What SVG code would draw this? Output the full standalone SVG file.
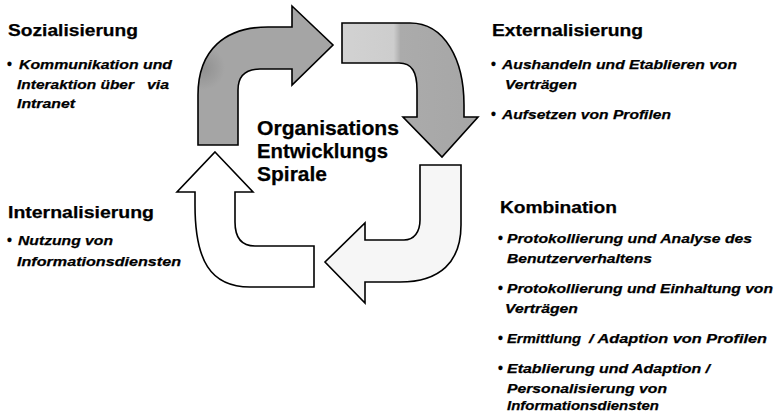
<svg xmlns="http://www.w3.org/2000/svg" width="777" height="412" viewBox="0 0 777 412">
<style>
.t{font-family:"Liberation Sans",Arial,Helvetica,sans-serif;font-weight:bold;fill:#000;stroke:#000;stroke-width:0.25}
.h{font-size:17px}
.b{font-size:13px;font-style:italic}
.d{font-size:14px}
.c{font-size:20.5px}
.ar{stroke:#000;stroke-width:1.6;stroke-linejoin:miter}
</style>
<defs>
<linearGradient id="g2" x1="342" y1="0" x2="478" y2="0" gradientUnits="userSpaceOnUse">
<stop offset="0" stop-color="#d2d2d2"/>
<stop offset="0.38" stop-color="#cdcdcd"/>
<stop offset="0.43" stop-color="#ababab"/>
<stop offset="1" stop-color="#a6a6a6"/>
</linearGradient>
<radialGradient id="g1" cx="203" cy="68" r="22" gradientUnits="userSpaceOnUse">
<stop offset="0" stop-color="#909090"/>
<stop offset="1" stop-color="#a5a5a5"/>
</radialGradient>
</defs>
<rect width="777" height="412" fill="#fff"/>
<g id="connectors">
<path id="arrow-top-left" class="ar" fill="url(#g1)" d="M198 145 L198 95 C198 50 225 27 268 27 L292 27 L292 6 L333 45 L292 85 L292 69 L260 69 C246 69 238 76 238 90 L238 145 Z"/>
<path id="arrow-top-right" class="ar" fill="url(#g2)" d="M342 23 L410 23 C445 23 464 60 464 105 L464 117 L478 117 L442 157 L403 117 L417 117 L417 90 C417 72 412 63 399 63 L342 63 Z"/>
<path id="arrow-bottom-right" class="ar" fill="#f6f6f6" d="M420 165 L461 165 L461 225 C461 262 440 282 400 282 L365 282 L365 303 L325 262 L365 223 L365 240 L404 240 C414 240 420 232 420 220 Z"/>
<path id="arrow-bottom-left" class="ar" fill="#fff" d="M215 152 L253 192 L235 192 L235 222 C235 238 242 246 255 246 L314 246 L314 287 L250 287 C210 287 195 260 195 205 L195 192 L177 192 Z"/>
</g>
<g id="center">
<text class="t c" x="257" y="135" textLength="142" lengthAdjust="spacingAndGlyphs">Organisations</text>
<text class="t c" x="257" y="158" textLength="131" lengthAdjust="spacingAndGlyphs">Entwicklungs</text>
<text class="t c" x="257" y="181" textLength="70" lengthAdjust="spacingAndGlyphs">Spirale</text>
</g>
<g id="sozialisierung">
<text class="t h" x="8" y="36" textLength="130" lengthAdjust="spacingAndGlyphs">Sozialisierung</text>
<text class="t d" x="7" y="69">•</text>
<text class="t b" x="19" y="69" textLength="153" lengthAdjust="spacingAndGlyphs">Kommunikation und</text>
<text class="t b" x="17" y="89" textLength="117" lengthAdjust="spacingAndGlyphs">Interaktion über</text>
<text class="t b" x="147" y="89" textLength="22" lengthAdjust="spacingAndGlyphs">via</text>
<text class="t b" x="17" y="108" textLength="58" lengthAdjust="spacingAndGlyphs">Intranet</text>
</g>
<g id="externalisierung">
<text class="t h" x="492" y="36" textLength="151" lengthAdjust="spacingAndGlyphs">Externalisierung</text>
<text class="t d" x="491" y="69">•</text>
<text class="t b" x="502" y="69" textLength="235" lengthAdjust="spacingAndGlyphs">Aushandeln und Etablieren von</text>
<text class="t b" x="505" y="89" textLength="72" lengthAdjust="spacingAndGlyphs">Verträgen</text>
<text class="t d" x="491" y="119">•</text>
<text class="t b" x="502" y="119" textLength="169" lengthAdjust="spacingAndGlyphs">Aufsetzen von Profilen</text>
</g>
<g id="internalisierung">
<text class="t h" x="8" y="218" textLength="146" lengthAdjust="spacingAndGlyphs">Internalisierung</text>
<text class="t d" x="7" y="245">•</text>
<text class="t b" x="18" y="245" textLength="95" lengthAdjust="spacingAndGlyphs">Nutzung von</text>
<text class="t b" x="17" y="266" textLength="164" lengthAdjust="spacingAndGlyphs">Informationsdiensten</text>
</g>
<g id="kombination">
<text class="t h" x="500" y="213" textLength="117" lengthAdjust="spacingAndGlyphs">Kombination</text>
<text class="t d" x="498" y="243">•</text>
<text class="t b" x="507" y="243" textLength="245" lengthAdjust="spacingAndGlyphs">Protokollierung und Analyse des</text>
<text class="t b" x="507" y="263" textLength="145" lengthAdjust="spacingAndGlyphs">Benutzerverhaltens</text>
<text class="t d" x="498" y="293">•</text>
<text class="t b" x="507" y="293" textLength="266" lengthAdjust="spacingAndGlyphs">Protokollierung und Einhaltung von</text>
<text class="t b" x="505" y="313" textLength="73" lengthAdjust="spacingAndGlyphs">Verträgen</text>
<text class="t d" x="498" y="343">•</text>
<text class="t b" x="507" y="343" textLength="74" lengthAdjust="spacingAndGlyphs">Ermittlung</text>
<text class="t b" x="589" y="343" textLength="178" lengthAdjust="spacingAndGlyphs">/ Adaption von Profilen</text>
<text class="t d" x="498" y="373">•</text>
<text class="t b" x="507" y="373" textLength="203" lengthAdjust="spacingAndGlyphs">Etablierung und Adaption /</text>
<text class="t b" x="507" y="393" textLength="160" lengthAdjust="spacingAndGlyphs">Personalisierung von</text>
<text class="t b" x="507" y="410" textLength="152" lengthAdjust="spacingAndGlyphs">Informationsdiensten</text>
</g>
</svg>
